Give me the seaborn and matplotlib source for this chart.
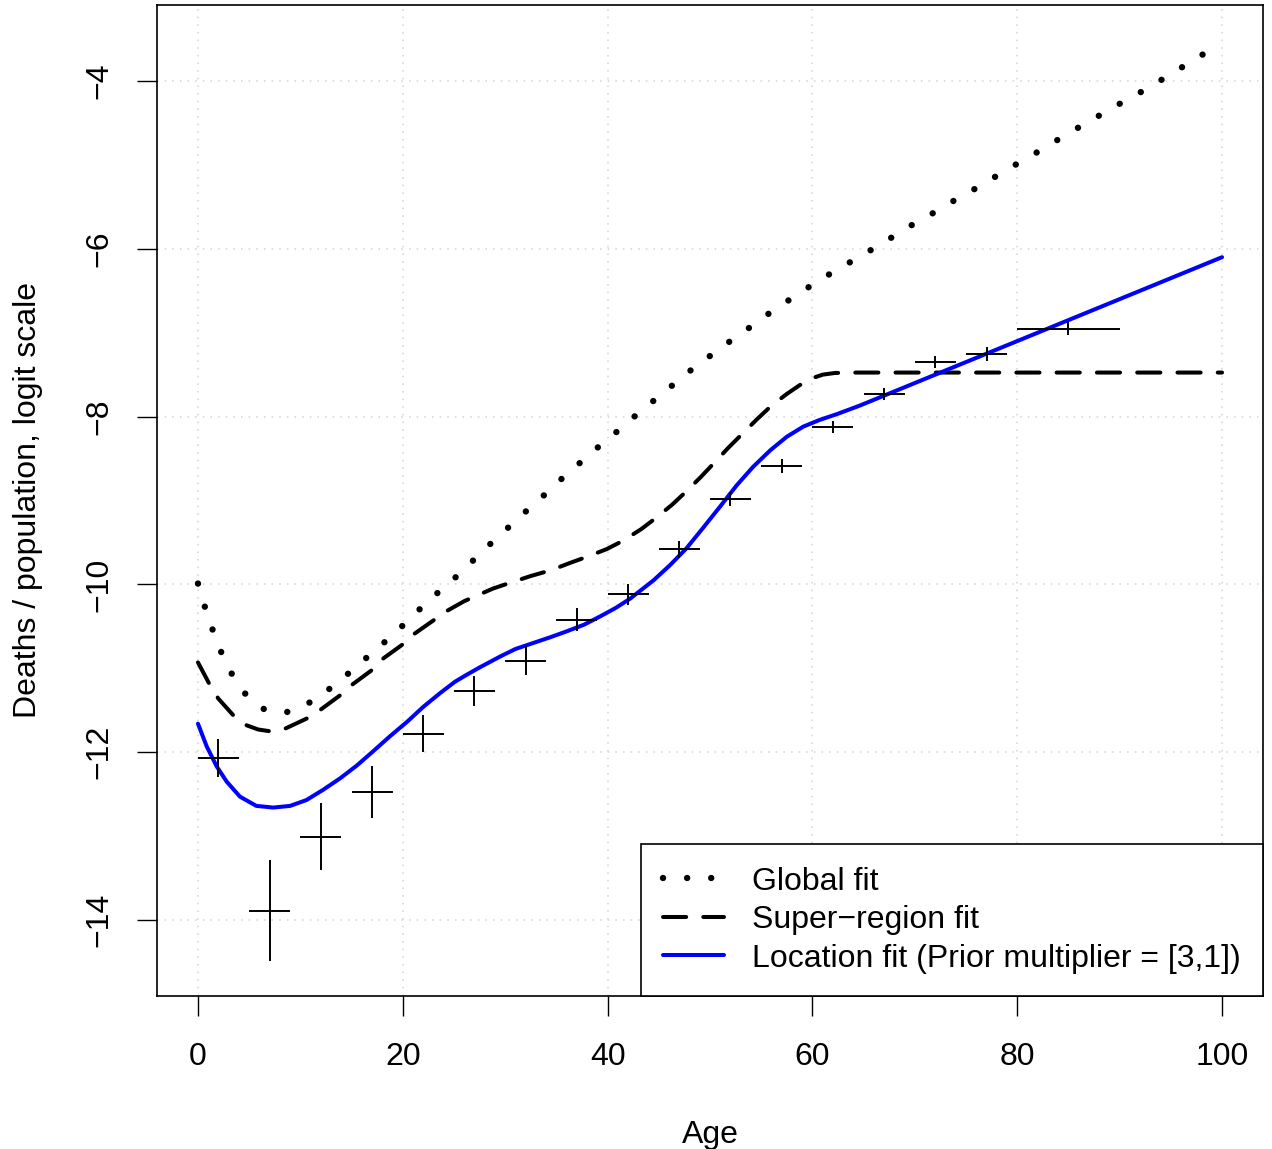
import numpy as np
import pandas as pd
import matplotlib
matplotlib.use("Agg")
import matplotlib.pyplot as plt
import seaborn as sns

# ---------------- data ----------------
global_age = [0, 0.68, 1.43, 2.28, 3.32, 4.66, 6.48, 7.6, 8.76, 10.87, 12.9, 14.7, 16.5,
              18.3, 20.0, 21.7, 23.5, 25.3, 27, 28.7, 30.5, 32.2, 33.95, 35.7, 37.5, 39.3,
              41.1, 42.9, 44.7, 46.6, 48.4, 50.3, 52.2, 54.2, 56.1, 58.1, 60.1, 62.1, 64.1,
              66.2, 68.2, 70.2, 72.3, 74.3, 76.4, 78.4, 80.5, 82.5, 84.5, 86.6, 88.6, 90.6,
              92.7, 94.7, 96.7, 98.7, 100]
global_val = [-9.99, -10.27, -10.54, -10.81, -11.07, -11.31, -11.49, -11.525, -11.52, -11.41,
              -11.24, -11.06, -10.87, -10.68, -10.49, -10.29, -10.09, -9.90, -9.70, -9.50,
              -9.30, -9.11, -8.92, -8.72, -8.53, -8.34, -8.16, -7.97, -7.79, -7.60, -7.42,
              -7.25, -7.08, -6.91, -6.74, -6.58, -6.42, -6.27, -6.13, -5.98, -5.83, -5.68,
              -5.54, -5.39, -5.25, -5.10, -4.95, -4.81, -4.66, -4.51, -4.37, -4.23, -4.09,
              -3.94, -3.79, -3.64, -3.53]

super_age = [0, 1.17, 1.98, 3.45, 4.76, 5.9, 7.0, 8.5, 10.6, 11.9, 13.9, 15.0, 17.0, 17.9,
             20.05, 21.0, 23.1, 24.4, 26, 28.8, 30.5, 32.5, 34.5, 36.2, 38, 39.9, 41.5,
             43.3, 44.8, 46.3, 47.7, 49.1, 50.5, 51.8, 53.2, 54.6, 56, 57.5, 58.7, 59.8,
             61.0, 62.2, 64, 100]
super_val = [-10.93, -11.20, -11.36, -11.56, -11.68, -11.73, -11.75, -11.72, -11.60, -11.50,
             -11.32, -11.20, -11.02, -10.90, -10.71, -10.60, -10.42, -10.31, -10.20, -10.05,
             -9.98, -9.90, -9.83, -9.75, -9.67, -9.58, -9.48, -9.34, -9.20, -9.05, -8.89,
             -8.72, -8.54, -8.37, -8.20, -8.03, -7.87, -7.73, -7.63, -7.55, -7.50, -7.48,
             -7.475, -7.475]

loc_age = [0, 0.85, 1.83, 2.8, 4.1, 5.7, 7.35, 9.0, 10.6, 12.2, 13.9, 15.5, 17.1, 18.75,
           20.4, 22.0, 23.6, 25.1, 26.2, 27.5, 29.5, 31, 32.7, 34.4, 36, 37.7, 39.3, 40.8,
           42.2, 44.5, 46.1, 47.7, 49.3, 51.0, 52.6, 54.2, 55.9, 57.5, 59.1, 60.7, 62.4,
           64.6, 70, 80, 90, 100]
loc_val = [-11.66, -11.93, -12.17, -12.35, -12.53, -12.64, -12.66, -12.64, -12.57, -12.45,
           -12.31, -12.16, -11.99, -11.81, -11.64, -11.46, -11.30, -11.16, -11.08, -10.99,
           -10.86, -10.77, -10.70, -10.63, -10.56, -10.48, -10.38, -10.28, -10.17, -9.95,
           -9.77, -9.57, -9.33, -9.07, -8.82, -8.60, -8.40, -8.24, -8.12, -8.04, -7.97,
           -7.87, -7.60, -7.10, -6.60, -6.10]

obs_age_lo = [0, 5, 10, 15, 20, 25, 30, 35, 40, 45, 50, 55, 60, 65, 70, 75, 80]
obs_age_hi = [4, 9, 14, 19, 24, 29, 34, 39, 44, 49, 54, 59, 64, 69, 74, 79, 90]
obs_val = [-12.07, -13.89, -13.01, -12.48, -11.78, -11.27, -10.91, -10.42, -10.12, -9.58,
           -8.98, -8.585, -8.12, -7.73, -7.35, -7.25, -6.95]
obs_half = [0.23, 0.60, 0.40, 0.31, 0.22, 0.18, 0.17, 0.135, 0.13, 0.103, 0.085, 0.083,
            0.073, 0.07, 0.075, 0.083, 0.075]

labels = ["Global fit", "Super\u2212region fit", "Location fit (Prior multiplier = [3,1])"]
x_ticks = [0, 20, 40, 60, 80, 100]
y_ticks = [-14, -12, -10, -8, -6, -4]

# ---------------- style ----------------
sns.set_theme(style="white")
plt.rcParams['font.family'] = ['Liberation Sans', 'DejaVu Sans']
plt.rcParams['axes.unicode_minus'] = True
for k in ['text.color', 'axes.labelcolor', 'xtick.color', 'ytick.color', 'axes.edgecolor']:
    plt.rcParams[k] = 'black'

FS = 23

fig = plt.figure(figsize=(12.72, 11.49), dpi=100)
ax = fig.add_axes([157 / 1272, 1 - 996 / 1149, (1263 - 157) / 1272, (996 - 5) / 1149])

df_g = pd.DataFrame({'Age': global_age, 'Value': global_val})
df_s = pd.DataFrame({'Age': super_age, 'Value': super_val})
df_l = pd.DataFrame({'Age': loc_age, 'Value': loc_val})

sns.lineplot(data=df_g, x='Age', y='Value', ax=ax, color='black', lw=4.6,
             linestyle=(0, (0.01, 3.76)), dash_capstyle='round', sort=False,
             estimator=None, label=labels[0])
sns.lineplot(data=df_s, x='Age', y='Value', ax=ax, color='black', lw=2.9,
             linestyle=(0, (5.75, 4.25)), dash_capstyle='round', sort=False,
             estimator=None, label=labels[1])
sns.lineplot(data=df_l, x='Age', y='Value', ax=ax, color='#0000FF', lw=2.9,
             sort=False, estimator=None, label=labels[2])

lo = np.array(obs_age_lo, float)
hi = np.array(obs_age_hi, float)
mid = (lo + hi) / 2
ax.errorbar(mid, obs_val, xerr=[mid - lo, hi - mid], yerr=obs_half, fmt='none',
            ecolor='black', elinewidth=1.4, capsize=0)

ax.set_xlim(-4, 104)
ax.set_ylim(-14.906, -3.094)
ax.set_xticks(x_ticks)
ax.set_yticks(y_ticks)
ax.grid(True, color='#D3D3D3', linestyle=(0, (1, 4)), lw=1.1)
ax.set_axisbelow(True)

ax.tick_params(axis='both', direction='out', length=14.4, width=1.0, labelsize=FS,
               bottom=True, left=True)
ax.tick_params(axis='x', pad=18.5)
ax.tick_params(axis='y', pad=16)
for t in ax.get_yticklabels():
    t.set_rotation(90)
    t.set_va('center')

ax.set_xlabel('Age', fontsize=FS, labelpad=35)
ax.set_ylabel('Deaths / population, logit scale', fontsize=FS, labelpad=30)

for s in ax.spines.values():
    s.set_visible(True)
    s.set_color('black')
    s.set_linewidth(1.2)

leg = ax.legend(loc='lower right', borderaxespad=0, frameon=True, fancybox=False,
                edgecolor='black', framealpha=1, fontsize=FS, handlelength=1.9,
                handletextpad=0.875, labelspacing=0.266, borderpad=0.7)
leg.get_frame().set_linewidth(1.2)

fig.savefig('out.png', dpi=100)
